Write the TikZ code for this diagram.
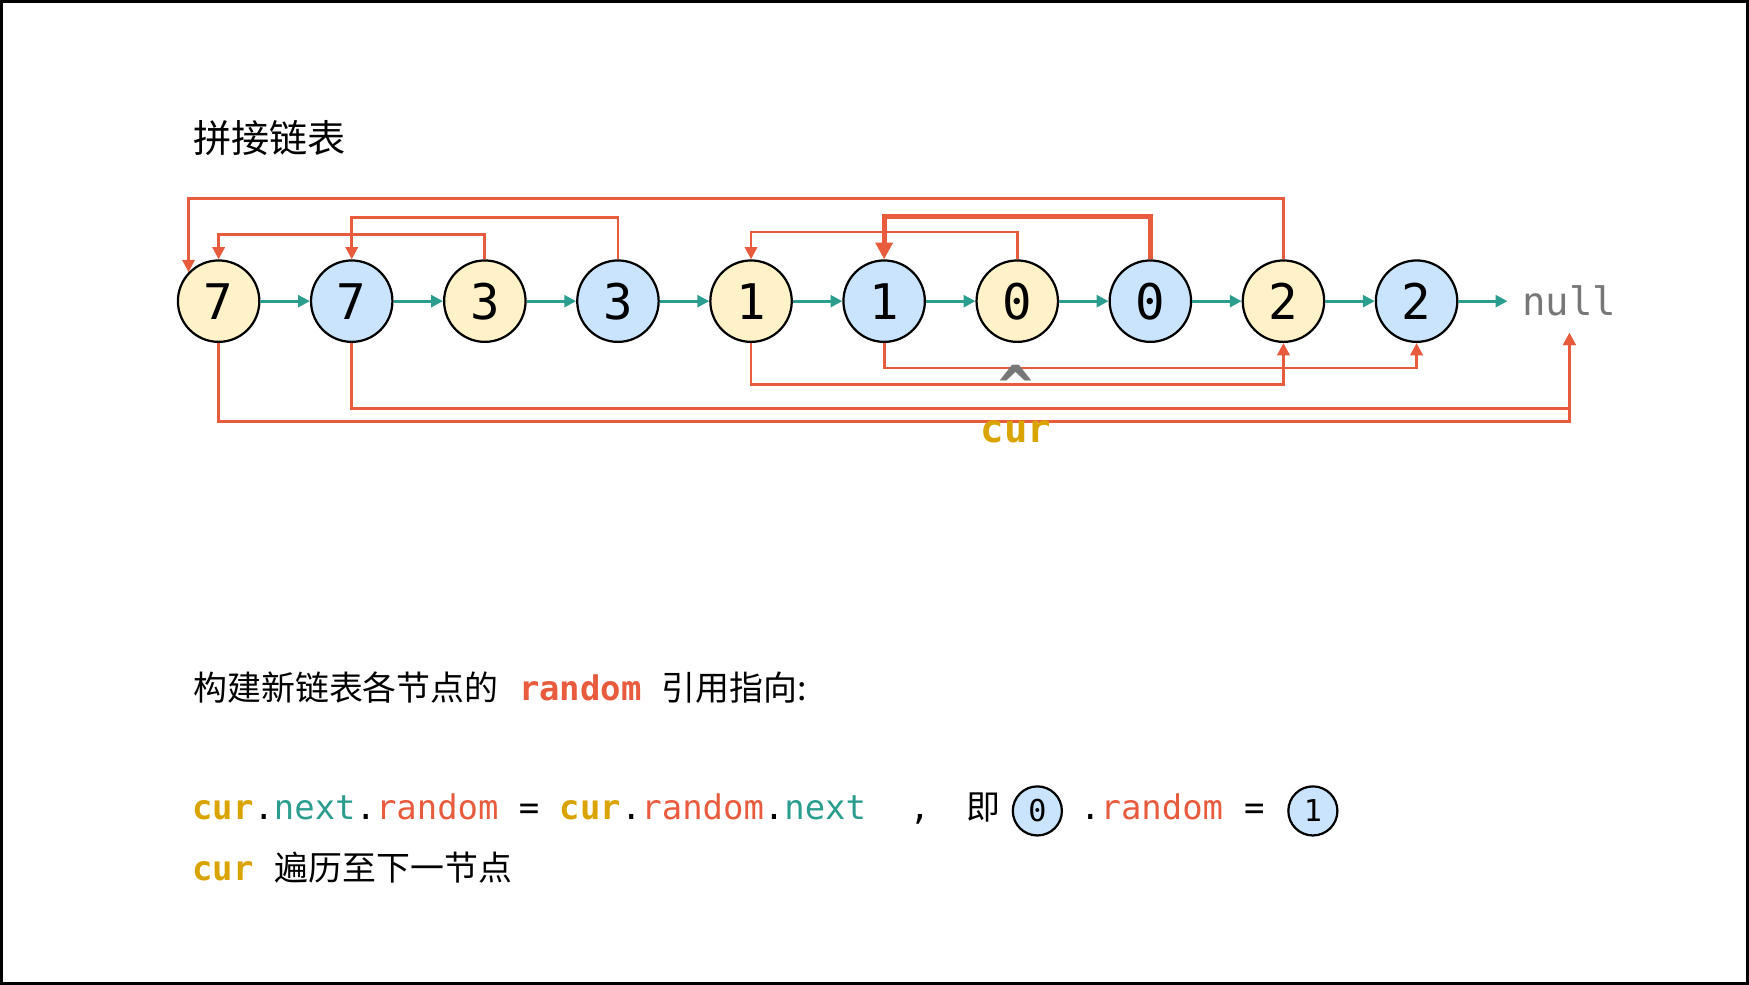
\documentclass[tikz,border=0pt]{standalone}
\usepackage{fontspec}
\setmainfont{Noto Sans CJK SC}
\newfontfamily\cjkf{Noto Sans CJK SC}
\newfontfamily\monof{DejaVu Sans Mono}
\usetikzlibrary{arrows.meta}
\definecolor{rd}{HTML}{E85B3D}
\definecolor{tl}{HTML}{2A9D8F}
\definecolor{yl}{HTML}{D9A400}
\definecolor{yfill}{HTML}{FFF2C8}
\definecolor{bfill}{HTML}{C9E4FC}
\definecolor{gr}{HTML}{777777}
\newcommand\msz[1]{\monof\fontsize{#1}{#1}\selectfont}
\newcommand\csz[1]{\cjkf\fontsize{#1}{#1}\selectfont}
\begin{document}
\begin{tikzpicture}[x=0.5pt,y=-0.5pt,
  lnode/.style={circle, draw=black, line width=1pt, minimum size=36.5pt, inner sep=0pt, font=\msz{22}},
  smallc/.style={circle, draw=black, line width=1pt, minimum size=22pt, inner sep=0pt, fill=bfill, font=\msz{13.5}},
  nxt/.style={draw=tl, line width=1.3pt, -{Triangle[length=5.3pt,width=5.3pt]}},
  rnd/.style={draw=rd, line width=1.25pt, -{Triangle[length=5.5pt,width=5.5pt]}},
  rndthick/.style={draw=rd, line width=2.3pt, -{Triangle[length=7.5pt,width=7.5pt]}},
  txt/.style={anchor=base west, inner sep=0pt},
]
\useasboundingbox (0,0) rectangle (1568,883);
\draw[line width=1.2pt] (1.2,1.2) rectangle (1566.8,881.8);

% title
\node[txt, font=\csz{17.1}] (title) at (173,137) {拼接链表};

% list nodes
\foreach \i/\v/\f in {1/7/yfill,2/7/bfill,3/3/yfill,4/3/bfill,5/1/yfill,6/1/bfill,7/0/yfill,8/0/bfill,9/2/yfill,10/2/bfill}
  \node[lnode, fill=\f] (n\i) at ({196+119.33*(\i-1)},270) {\v};

\node[anchor=base, inner sep=0pt, text depth=7.5pt, text=gr, font=\msz{17.5}] (null) at (1407,283) {null};

\foreach \i [evaluate=\i as \j using int(\i+1)] in {1,...,9}
  \draw[nxt] (n\i) -- (n\j);
\draw[nxt, shorten >=6.5pt] (n10) -- (n10 -| null.west);

% levels
\coordinate (ya) at (0,178);
\coordinate (yb) at (0,195);
\coordinate (yc) at (0,210);
\coordinate (yd) at (0,208);
\coordinate (ye) at (0,194);
\coordinate (yf) at (0,330);
\coordinate (yg) at (0,345);
\coordinate (yh) at (0,366);
\coordinate (yi) at (0,378);

% random pointers
\draw[rnd] (n9.north) -- (n9.north |- ya) -| (n1.136);
\draw[rnd] (n4.north) -- (n4.north |- yb) -| (n2.north);
\draw[rnd] (n3.north) -- (n3.north |- yc) -| (n1.north);
\draw[rnd] (n7.north) -- (n7.north |- yd) -| (n5.north);
\draw[rndthick] (n8.north) -- (n8.north |- ye) -| (n6.north);
\draw[rnd] (n6.south) -- (n6.south |- yf) -| (n10.south);
\draw[rnd] (n5.south) -- (n5.south |- yg) -| (n9.south);
\draw[rnd] (n2.south) -- (n2.south |- yh) -| (null.south);
\draw[rnd] (n1.south) -- (n1.south |- yi) -| (null.south);

% cur pointer
\node[anchor=base, inner sep=0pt, text=gr, font=\msz{26}\bfseries] (caret) at (911,365) {\textasciicircum};
\node[anchor=base, inner sep=0pt, text=yl, font=\msz{17.5}\bfseries] (cur) at (911,397) {cur};

% text lines
\node[txt] (l2) at (173,628) {{\csz{15.2}构建新链表各节点的}{\msz{15.2}\bfseries\color{rd}\ random\ }{\csz{15.2}引用指向:}};

\node[txt, font=\msz{15.2}] (l3) at (172,735) {\textcolor{yl}{\bfseries cur}.\textcolor{tl}{next}.\textcolor{rd}{random} = \textcolor{yl}{\bfseries cur}.\textcolor{rd}{random}.\textcolor{tl}{next}};
\node[txt, font=\msz{15.2}] (comma) at (815,735) {,};
\node[txt, font=\csz{15.2}] (ji) at (866,735) {即};
\node[smallc] (c0) at (930,727) {0};
\node[txt, font=\msz{15.2}] (dr) at (968,735) {.\textcolor{rd}{random}};
\node[txt, font=\msz{15.2}] (eq) at (1115,735) {=};
\node[smallc] (c1) at (1177,727) {1};

\node[txt, text=yl, font=\msz{15.2}\bfseries] (l4a) at (172,789) {cur};
\node[txt, font=\csz{15.2}] (l4b) at (246,789) {遍历至下一节点};
\end{tikzpicture}
\end{document}
